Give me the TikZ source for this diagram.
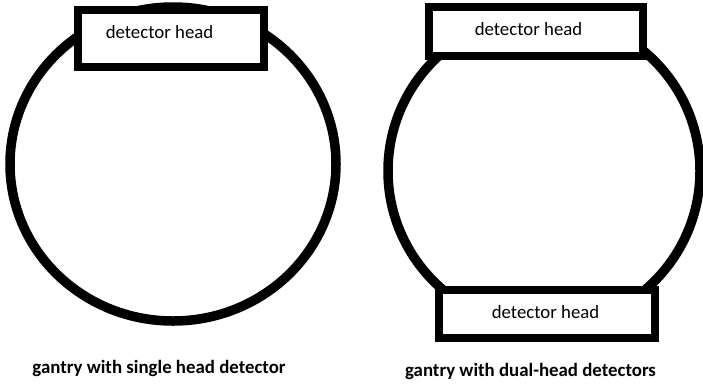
\documentclass[tikz,border=0pt]{standalone}
\usepackage{fontspec}
\setmainfont{Carlito}
\begin{document}
\begin{tikzpicture}[x=1pt,y=-1pt,
  gantry/.style={draw=black,line width=9.5pt},
  headbox/.style={draw=black,fill=white,line width=8pt,inner sep=0pt,rectangle},
  lbl/.style={font=\fontsize{18.8}{22}\selectfont,anchor=base,inner sep=0pt},
  captiontext/.style={font=\bfseries\fontsize{18.85}{22}\selectfont,anchor=base,inner sep=0pt}]
\useasboundingbox (0,0) rectangle (703,384);
% left gantry
\draw[gantry] (173,164) ellipse [x radius=163pt, y radius=157pt];
\node[headbox,minimum width=186pt,minimum height=57pt] (h1) at (171,38.5) {};
\node[lbl] (t1) at (159.5,38) {detector head};
\node[captiontext] (c1) at (159,373) {gantry with single head detector};
% right gantry
\draw[gantry] (544,171) circle [radius=156pt];
\node[headbox,minimum width=214pt,minimum height=49pt] (h2) at (536,31.5) {};
\node[headbox,minimum width=216pt,minimum height=48pt] (h3) at (547,314) {};
\node[lbl] (t2) at (528.5,35) {detector head};
\node[lbl] (t3) at (545.5,318) {detector head};
\node[captiontext] (c2) at (530.5,376) {gantry with dual-head detectors};
\end{tikzpicture}
\end{document}
